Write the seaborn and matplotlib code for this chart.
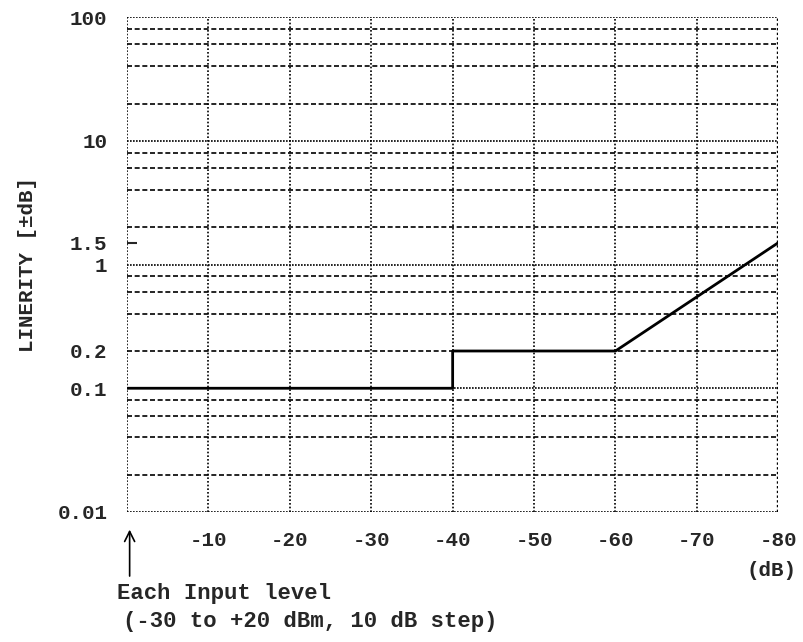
import numpy as np
import pandas as pd
import matplotlib
matplotlib.use("Agg")
import matplotlib.pyplot as plt
import seaborn as sns

# Linearity vs. level (dB), log scale
level_db = [0, -40, -40, -60, -80]
linearity = [0.1, 0.1, 0.2, 0.2, 1.5]

x_ticks = [-10, -20, -30, -40, -50, -60, -70, -80]
x_labels = ["-10", "-20", "-30", "-40", "-50", "-60", "-70", "-80"]
y_ticks = [0.01, 0.1, 0.2, 1, 1.5, 10, 100]
y_labels = ["0.01", "0.1", "0.2", "1", "1.5", "10", "100"]
decades = [0.01, 0.1, 1, 10, 100]
minor_steps = [2, 4, 6, 8]

sns.set_style("white")
plt.rcParams["font.family"] = ["Liberation Mono", "DejaVu Sans Mono"]
plt.rcParams["font.weight"] = "bold"
plt.rcParams["axes.labelweight"] = "bold"

fig = plt.figure(figsize=(8.04, 6.42), dpi=100)
ax = fig.add_axes([0.158, 0.2025, 0.81, 0.771])

df = pd.DataFrame({"level": level_db, "lin": linearity})
sns.lineplot(data=df, x="level", y="lin", sort=False, estimator=None,
             color="black", linewidth=2.0, ax=ax, zorder=5)

ax.set_yscale("log")
ax.set_xlim(0, -80)
ax.set_ylim(0.01, 100)

# grid: dotted decades and verticals, dashed 2-4-6-8 lines
for d in decades[:-1]:
    for m in minor_steps:
        ax.axhline(d * m, color="black", lw=1.2, ls=(0, (3, 1.6)), zorder=1)
for d in decades:
    ax.axhline(d, color="black", lw=1.2, ls=(0, (1, 0.8)), zorder=1)
for xv in x_ticks[:-1]:
    ax.axvline(xv, color="black", lw=1.2, ls=(0, (1, 1.2)), zorder=1)
ax.axvline(0, color="black", lw=1.2, ls=(0, (1, 1.0)), zorder=1)
ax.axvline(-80, color="black", lw=1.7, ls=(0, (1, 1.0)), zorder=1)
for s in ax.spines.values():
    s.set_visible(False)

ax.set_xticks(x_ticks)
ax.set_xticklabels(x_labels)
ax.set_yticks(y_ticks)
ax.set_yticklabels(y_labels)
ax.minorticks_off()
ax.tick_params(axis="x", length=0, pad=14, labelsize=15)
ax.tick_params(axis="y", length=0, pad=14, labelsize=15, direction="in")
for t, v in zip(ax.yaxis.get_major_ticks(), y_ticks):
    if v == 1.5:
        t.tick1line.set_visible(True)
        t.tick1line.set_color("black")
        t.tick1line.set_markersize(7)
        t.tick1line.set_markeredgewidth(1.5)

ax.set_xlabel("")
ax.set_ylabel("LINERITY [\u00b1dB]", fontsize=15)
ax.yaxis.set_label_coords(-0.138, 0.5)

ax.text(0.99, -0.118, "(dB)", transform=ax.transAxes, ha="center",
        va="center", fontsize=15)

ax.annotate("", xy=(0.004, -0.03), xytext=(0.004, -0.135),
            xycoords="axes fraction", textcoords="axes fraction",
            arrowprops=dict(arrowstyle="->", color="black", lw=1.2,
                            mutation_scale=18))
fig.text(117 / 804, 1 - 594 / 642, "Each Input level", ha="left",
         va="center", fontsize=16)
fig.text(123 / 804, 1 - 622 / 642, "(-30 to +20 dBm, 10 dB step)",
         ha="left", va="center", fontsize=16)

fig.savefig("out.png", dpi=100)
